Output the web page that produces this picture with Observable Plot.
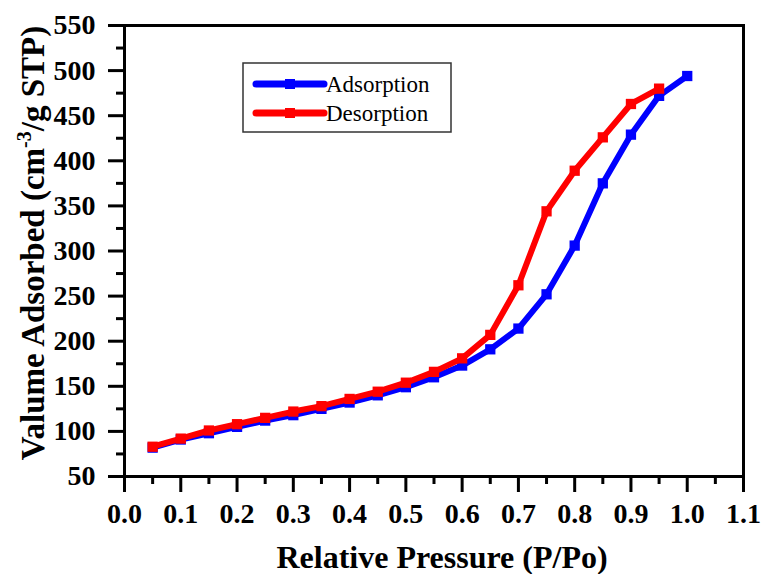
<!DOCTYPE html>
<html><head><meta charset="utf-8">
<script src="https://cdn.jsdelivr.net/npm/d3@7"></script>
<script src="https://cdn.jsdelivr.net/npm/@observablehq/plot@0.6"></script>
<style>body{margin:0;background:#fff}</style>
</head><body><div id="chart"></div>
<script>
const pressureAds = [0.05,0.10,0.15,0.20,0.25,0.30,0.35,0.40,0.45,0.50,0.55,0.60,0.65,0.70,0.75,0.80,0.85,0.90,0.95,1.00];
const adsorption  = [82,91,98,105,112,118,125,132,140,149,160,173,191,214,252,306,375,429,472,494];
const pressureDes = [0.05,0.10,0.15,0.20,0.25,0.30,0.35,0.40,0.45,0.50,0.55,0.60,0.65,0.70,0.75,0.80,0.85,0.90,0.95];
const desorption  = [83,92,101,108,115,122,128,136,144,154,166,181,207,262,344,389,426,463,480];
const seriesNames = ["Adsorption","Desorption"];
const seriesColors = ["#0000ff","#ff0000"];
const xTicks = [0,0.1,0.2,0.3,0.4,0.5,0.6,0.7,0.8,0.9,1.0,1.1];
const xTickLabels = ["0.0","0.1","0.2","0.3","0.4","0.5","0.6","0.7","0.8","0.9","1.0","1.1"];
const xMinor = [0.05,0.15,0.25,0.35,0.45,0.55,0.65,0.75,0.85,0.95,1.05];
const yTicks = [50,100,150,200,250,300,350,400,450,500,550];
const yTickLabels = ["50","100","150","200","250","300","350","400","450","500","550"];
const yMinor = [75,125,175,225,275,325,375,425,475,525];
const xTitle = "Relative Pressure (P/Po)";

const adsRows = pressureAds.map((p,i)=>({p, v: adsorption[i]}));
const desRows = pressureDes.map((p,i)=>({p, v: desorption[i]}));
const serif = "'Liberation Serif', 'Times New Roman', serif";
const tickFont = {fontFamily: serif, fontWeight: "bold", fontSize: 28};

const plot = Plot.plot({
  width: 764, height: 574,
  marginLeft: 124, marginRight: 21, marginTop: 25, marginBottom: 98,
  x: {domain: [0, 1.1]},
  y: {domain: [50, 550]},
  style: {background: "#fff", color: "#000"},
  marks: [
    Plot.line(adsRows, {x:"p", y:"v", stroke: seriesColors[0], strokeWidth: 6}),
    Plot.dot(adsRows, {x:"p", y:"v", symbol:"square", fill: seriesColors[0], r: 5.8}),
    Plot.line(desRows, {x:"p", y:"v", stroke: seriesColors[1], strokeWidth: 6}),
    Plot.dot(desRows, {x:"p", y:"v", symbol:"square", fill: seriesColors[1], r: 5.8}),
    Plot.axisX(xMinor, {tickSize: 8, strokeWidth: 3, tickFormat: () => "", label: null}),
    Plot.axisY(yMinor, {tickSize: 8, strokeWidth: 3, tickFormat: () => "", label: null}),
    Plot.axisX(xTicks, {tickSize: 16, tickPadding: 11, strokeWidth: 3, label: null,
      tickFormat: d => xTickLabels[xTicks.indexOf(d)], ...tickFont}),
    Plot.axisY(yTicks, {tickSize: 16, tickPadding: 13, strokeWidth: 3, label: null,
      tickFormat: d => yTickLabels[yTicks.indexOf(d)], ...tickFont}),
    Plot.frame({strokeWidth: 3})
  ]
});
document.getElementById("chart").appendChild(plot);

const svg = d3.select(plot);
function serifText(sel, size, weight) {
  return sel.style("font-family", serif).style("font-size", size + "px")
    .style("font-weight", weight).attr("fill", "#000");
}
// axis titles
serifText(svg.append("text"), 32, "bold")
  .attr("x", 442).attr("y", 568)
  .style("text-anchor", "middle")
  .text(xTitle);
const yt = serifText(svg.append("text"), 33, "bold")
  .attr("transform", "translate(44,243) rotate(-90)")
  .style("text-anchor", "middle");
yt.append("tspan").text("Valume Adsorbed (cm");
yt.append("tspan").style("font-size", "20px").attr("dy", -13).text("-3");
yt.append("tspan").attr("dy", 13).text("/g STP)");

// legend
const lg = svg.append("g");
lg.append("rect").attr("x", 243).attr("y", 63).attr("width", 208).attr("height", 69)
  .attr("fill", "#fff").attr("stroke", "#333").attr("stroke-width", 1.5);
seriesNames.forEach((name, i) => {
  const y = 84 + i * 29;
  lg.append("line").attr("x1", 256).attr("x2", 324).attr("y1", y).attr("y2", y)
    .attr("stroke", seriesColors[i]).attr("stroke-width", 7).attr("stroke-linecap", "round");
  lg.append("rect").attr("x", 285).attr("y", y - 5).attr("width", 10).attr("height", 10)
    .attr("fill", seriesColors[i]);
  serifText(lg.append("text"), 23, "normal")
    .attr("x", 326).attr("y", y).attr("dy", "0.35em")
    .style("text-anchor", "start")
    .text(name);
});
</script>
</body></html>
